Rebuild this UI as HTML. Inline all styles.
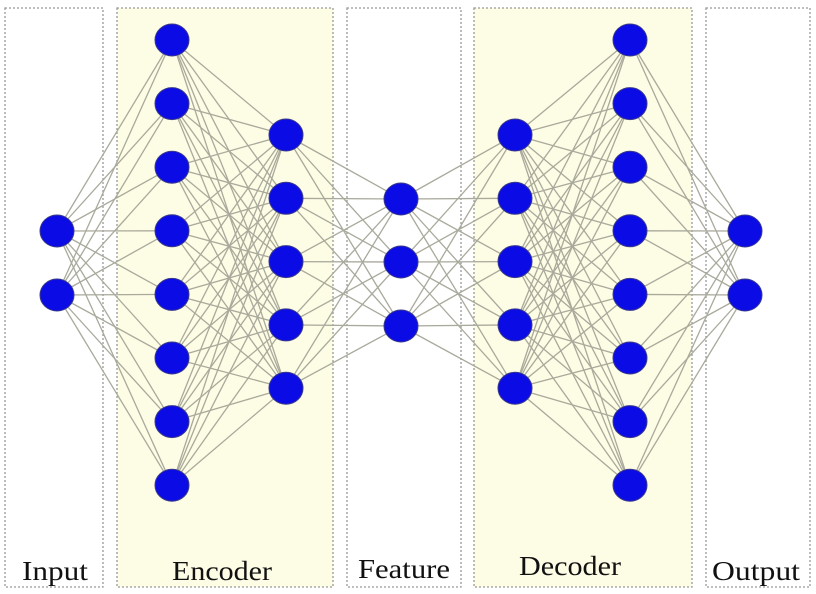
<!DOCTYPE html>
<html><head><meta charset="utf-8"><style>
html,body{margin:0;padding:0;background:#fff;}
svg{display:block;}
text{font-family:"Liberation Serif",serif;font-size:27px;fill:#111;}
</style></head><body>
<svg id="s" width="816" height="594" xmlns="http://www.w3.org/2000/svg">
<g fill="none" stroke="#999" stroke-width="1.3" stroke-dasharray="2,2">
<rect x="5" y="8" width="98" height="579" fill="#fff"/>
<rect x="117" y="8" width="216" height="579" fill="#fdfce4"/>
<rect x="347" y="8" width="114" height="579" fill="#fff"/>
<rect x="474" y="8" width="218" height="579" fill="#fdfce4"/>
<rect x="706" y="8" width="104" height="579" fill="#fff"/>
</g>
<g id="lines" stroke="#a9a99c" stroke-width="1.3"></g>
<g id="nodes" fill="#0b0be6" stroke="#3a3a8a" stroke-width="1"></g>
<text x="55" y="580" text-anchor="middle" textLength="66" lengthAdjust="spacingAndGlyphs">Input</text>
<text x="222" y="580" text-anchor="middle" textLength="100" lengthAdjust="spacingAndGlyphs">Encoder</text>
<text x="404" y="578" text-anchor="middle" textLength="92" lengthAdjust="spacingAndGlyphs">Feature</text>
<text x="570" y="575" text-anchor="middle" textLength="102" lengthAdjust="spacingAndGlyphs">Decoder</text>
<text x="756" y="580" text-anchor="middle" textLength="88" lengthAdjust="spacingAndGlyphs">Output</text>
</svg>
<script>
var ns="http://www.w3.org/2000/svg";
function ys(a,n,st){var r=[];for(var i=0;i<n;i++)r.push(a+i*st);return r;}
var L=[[57,[231,295]],[172,ys(40,8,63.6)],[286,ys(135,5,63.3)],[401,[199,262,326]],[515,ys(135,5,63.3)],[630,ys(40,8,63.6)],[745,[231,295]]];
var lg=document.getElementById("lines"),ng=document.getElementById("nodes");
for(var k=0;k<L.length-1;k++){var a=L[k],b=L[k+1];
a[1].forEach(function(y1){b[1].forEach(function(y2){var l=document.createElementNS(ns,"line");
l.setAttribute("x1",a[0]);l.setAttribute("y1",y1);l.setAttribute("x2",b[0]);l.setAttribute("y2",y2);lg.appendChild(l);});});}
L.forEach(function(c){c[1].forEach(function(y){var e=document.createElementNS(ns,"ellipse");
e.setAttribute("cx",c[0]);e.setAttribute("cy",y);e.setAttribute("rx",17);e.setAttribute("ry",16);ng.appendChild(e);});});
</script>
</body></html>
